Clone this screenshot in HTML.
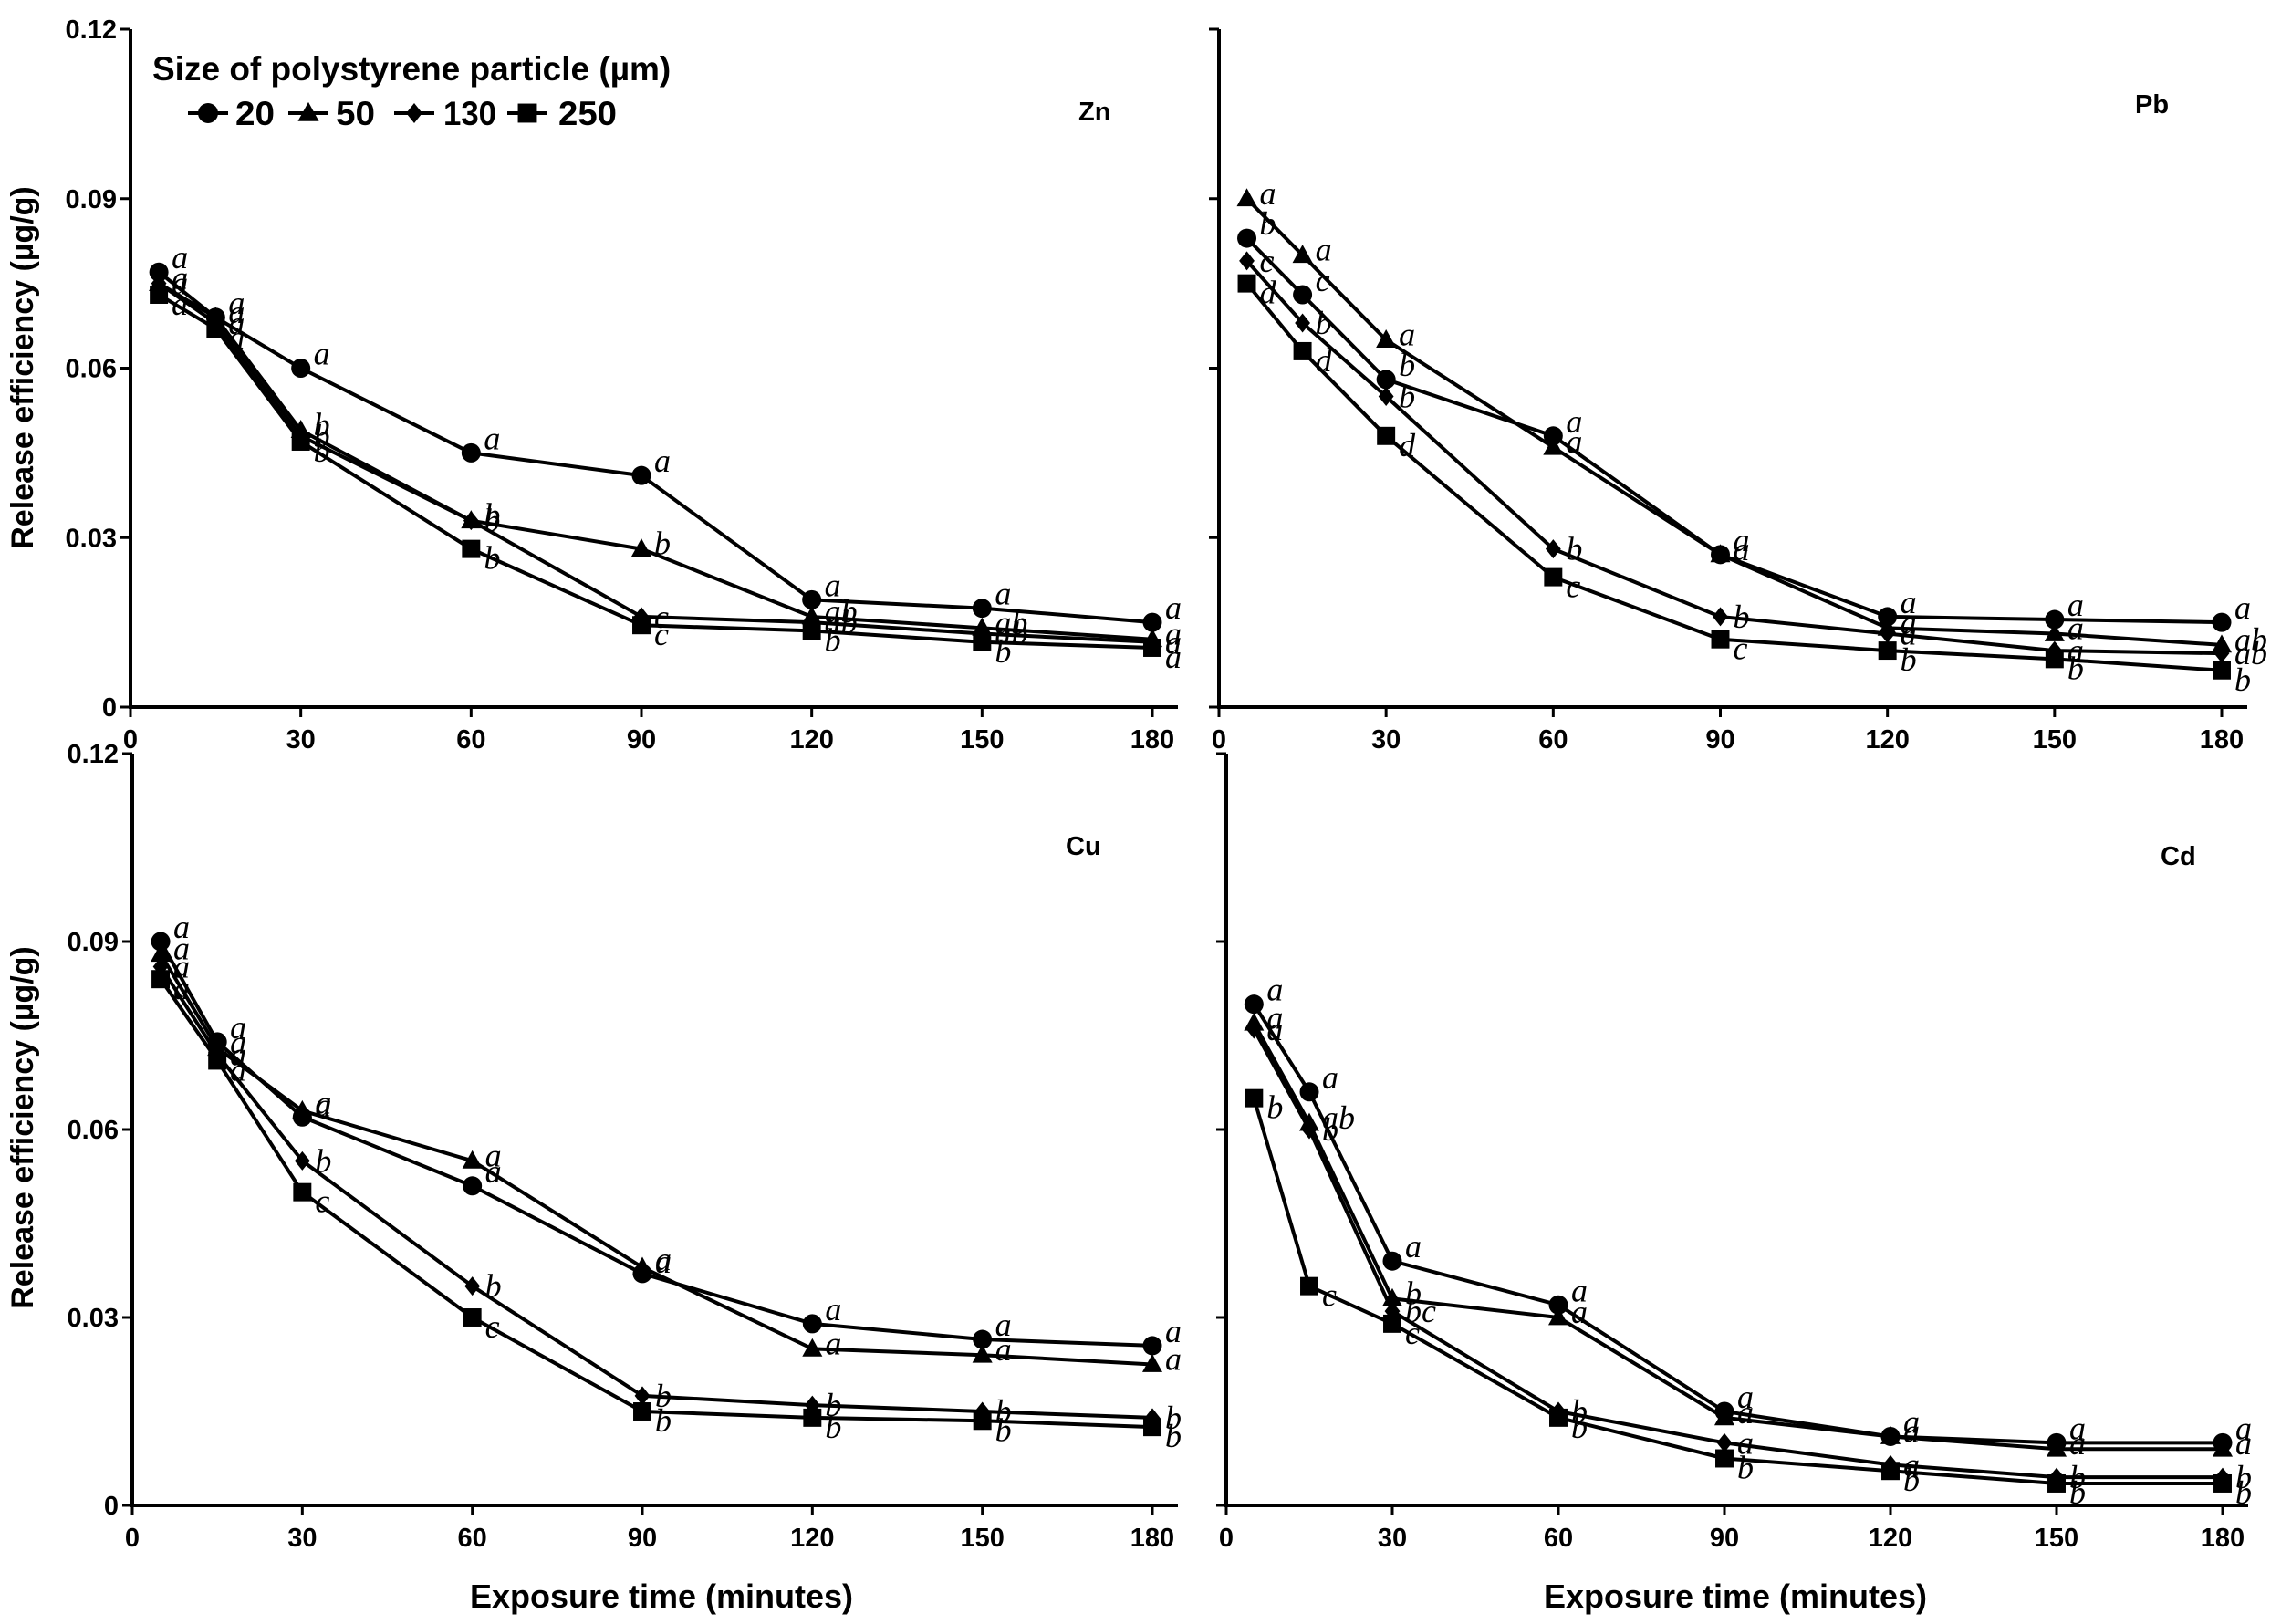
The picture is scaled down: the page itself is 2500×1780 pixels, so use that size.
<!DOCTYPE html>
<html><head><meta charset="utf-8"><style>
body{margin:0;background:#fff;}
svg{display:block;font-family:"Liberation Sans",Arial,sans-serif;}
.tick{font-size:29px;font-weight:bold;}
.title{font-size:36px;font-weight:bold;}
.ytitle{font-size:34px;font-weight:bold;}
.ltitle{font-size:37px;font-weight:bold;}
.let{font-family:"Liberation Serif",serif;font-style:italic;font-size:36px;}
</style></head><body>
<svg id="chart" width="2500" height="1780" viewBox="0 0 2500 1780"></svg>
<script>
const times=[5,15,30,60,90,120,150,180];
const sizes=["20","50","130","250"];
const yTicks=[0,0.03,0.06,0.09,0.12];
const yTickLabels=["0","0.03","0.06","0.09","0.12"];
const xTicks=[0,30,60,90,120,150,180];
const znVals=[[0.077,0.069,0.060,0.045,0.041,0.019,0.0175,0.015],[0.075,0.069,0.049,0.033,0.028,0.016,0.014,0.012],[0.075,0.068,0.048,0.033,0.016,0.015,0.013,0.0115],[0.073,0.067,0.047,0.028,0.0145,0.0135,0.0115,0.0105]];
const pbVals=[[0.083,0.073,0.058,0.048,0.027,0.016,0.0155,0.015],[0.090,0.080,0.065,0.046,0.027,0.014,0.013,0.011],[0.079,0.068,0.055,0.028,0.016,0.013,0.010,0.0095],[0.075,0.063,0.048,0.023,0.012,0.010,0.0085,0.0065]];
const cuVals=[[0.090,0.074,0.062,0.051,0.037,0.029,0.0265,0.0255],[0.088,0.073,0.063,0.055,0.038,0.025,0.024,0.0225],[0.086,0.072,0.055,0.035,0.0175,0.016,0.015,0.014],[0.084,0.071,0.050,0.030,0.015,0.014,0.0135,0.0125]];
const cdVals=[[0.080,0.066,0.039,0.032,0.015,0.011,0.010,0.010],[0.077,0.061,0.033,0.030,0.014,0.011,0.009,0.009],[0.076,0.060,0.031,0.015,0.010,0.0065,0.0045,0.0045],[0.065,0.035,0.029,0.014,0.0075,0.0055,0.0035,0.0035]];
const znLet=[["a","a","a","a","a","a","a","a"],["a","a","b","b","b","ab","ab","a"],["a","a","b","b","c","ab","ab","a"],["a","a","b","b","c","b","b","a"]];
const pbLet=[["b","c","b","a","a","a","a","a"],["a","a","a","a","a","a","a","ab"],["c","b","b","b","b","a","a","ab"],["d","d","d","c","c","b","b","b"]];
const cuLet=[["a","a","a","a","a","a","a","a"],["a","a","a","a","a","a","a","a"],["a","a","b","b","b","b","b","b"],["a","a","c","c","b","b","b","b"]];
const cdLet=[["a","a","a","a","a","a","a","a"],["a","ab","b","a","a","a","a","a"],["a","b","bc","b","a","a","b","b"],["b","c","c","b","b","b","b","b"]];

const NS="http://www.w3.org/2000/svg";
const svg=document.getElementById('chart');
function mk(tag,attrs,parent){const e=document.createElementNS(NS,tag);for(const k in attrs)e.setAttribute(k,attrs[k]);(parent||svg).appendChild(e);return e;}
function marker(g,kind,cx,cy,r){
  let e;
  if(kind===0)e=mk('circle',{cx:cx,cy:cy,r:r,fill:'#000'},g);
  else if(kind===1)e=mk('polygon',{points:`${cx},${cy-r*1.1} ${cx+r*1.05},${cy+r*0.8} ${cx-r*1.05},${cy+r*0.8}`,fill:'#000'},g);
  else if(kind===2)e=mk('polygon',{points:`${cx},${cy-r} ${cx+r*0.8},${cy} ${cx},${cy+r} ${cx-r*0.8},${cy}`,fill:'#000'},g);
  else e=mk('rect',{x:cx-r*0.95,y:cy-r*0.95,width:r*1.9,height:r*1.9,fill:'#000'},g);
  return e;
}
const panels=[
 {name:'zn',label:'Zn',vals:znVals,lets:znLet,x0:143,x1:1263,axEnd:1291,yb:775,yt:32,yLabels:true,lx:1182,ly:132},
 {name:'pb',label:'Pb',vals:pbVals,lets:pbLet,x0:1336,x1:2435,axEnd:2463,yb:775,yt:32,yLabels:false,lx:2340,ly:124},
 {name:'cu',label:'Cu',vals:cuVals,lets:cuLet,x0:145,x1:1263,axEnd:1291,yb:1650,yt:826,yLabels:true,lx:1168,ly:937},
 {name:'cd',label:'Cd',vals:cdVals,lets:cdLet,x0:1344,x1:2436,axEnd:2464,yb:1650,yt:826,yLabels:false,lx:2368,ly:948}
];
const letDy=[-4,6,12,22];
panels.forEach(p=>{
  const g=mk('g',{});
  
  
  const X=t=>p.x0+(t/180)*(p.x1-p.x0);
  const Y=v=>p.yb-(v/0.12)*(p.yb-p.yt);
  const ax=mk('path',{d:`M${p.x0},${p.yt} V${p.yb} H${p.axEnd}`,stroke:'#000','stroke-width':4,fill:'none'},g);
  
  
  yTicks.forEach((v,i)=>{
    mk('line',{x1:p.x0-11,x2:p.x0,y1:Y(v),y2:Y(v),stroke:'#000','stroke-width':3},g);
    if(p.yLabels){const t=mk('text',{x:p.x0-15,y:Y(v)+10,'text-anchor':'end',class:'tick'},g);t.textContent=yTickLabels[i];
      
      }
  });
  xTicks.forEach(v=>{
    mk('line',{x1:X(v),x2:X(v),y1:p.yb,y2:p.yb+11,stroke:'#000','stroke-width':3},g);
    const t=mk('text',{x:X(v),y:p.yb+45,'text-anchor':'middle',class:'tick'},g);t.textContent=String(v);
    
    
  });
  const pl=mk('text',{x:p.lx,y:p.ly,class:'tick'},g);pl.textContent=p.label;
  
  
  p.vals.forEach((ser,s)=>{
    const sg=mk('g',{},g);
    
    
    const d=ser.map((v,i)=>(i?'L':'M')+X(times[i])+','+Y(v)).join(' ');
    mk('path',{d:d,stroke:'#000','stroke-width':4,fill:'none','stroke-linejoin':'round'},sg);
    ser.forEach((v,i)=>{
      const m=marker(sg,s,X(times[i]),Y(v),10.5);
      
      
      const t=mk('text',{x:X(times[i])+14,y:Y(v)+letDy[s],class:'let'},sg);t.textContent=p.lets[s][i];
      
      
    });
  });
});
function txt(x,y,s,cls,anchor,rot,name){const t=mk('text',{x:x,y:y,class:cls,'text-anchor':anchor||'start'});if(rot)t.setAttribute('transform',`rotate(-90 ${x} ${y})`);t.textContent=s;
  
  return t;}
txt(36,403,'Release efficiency (µg/g)','ytitle','middle',true,'y-axis-title-top');
txt(36,1236,'Release efficiency (µg/g)','ytitle','middle',true,'y-axis-title-bottom');
txt(725,1762,'Exposure time (minutes)','title','middle',false,'x-axis-title-left');
txt(1902,1762,'Exposure time (minutes)','title','middle',false,'x-axis-title-right');
txt(167,88,'Size of polystyrene particle (µm)','ltitle','start',false,'legend-title');
const lg=mk('g',{});


const legX=[258,368,486,612];
const legM=[228,338,454,578];
const legW=[43,43,58,64];
sizes.forEach((s,i)=>{
  const eg=mk('g',{},lg);
  
  
  const cx=legM[i];
  mk('line',{x1:cx-22,x2:cx+22,y1:124,y2:124,stroke:'#000','stroke-width':4},eg);
  marker(eg,i,cx,124,11);
  const t=mk('text',{x:legX[i],y:137,class:'ltitle',textLength:legW[i],lengthAdjust:'spacingAndGlyphs'},eg);t.textContent=s;
});
</script>
</body></html>
